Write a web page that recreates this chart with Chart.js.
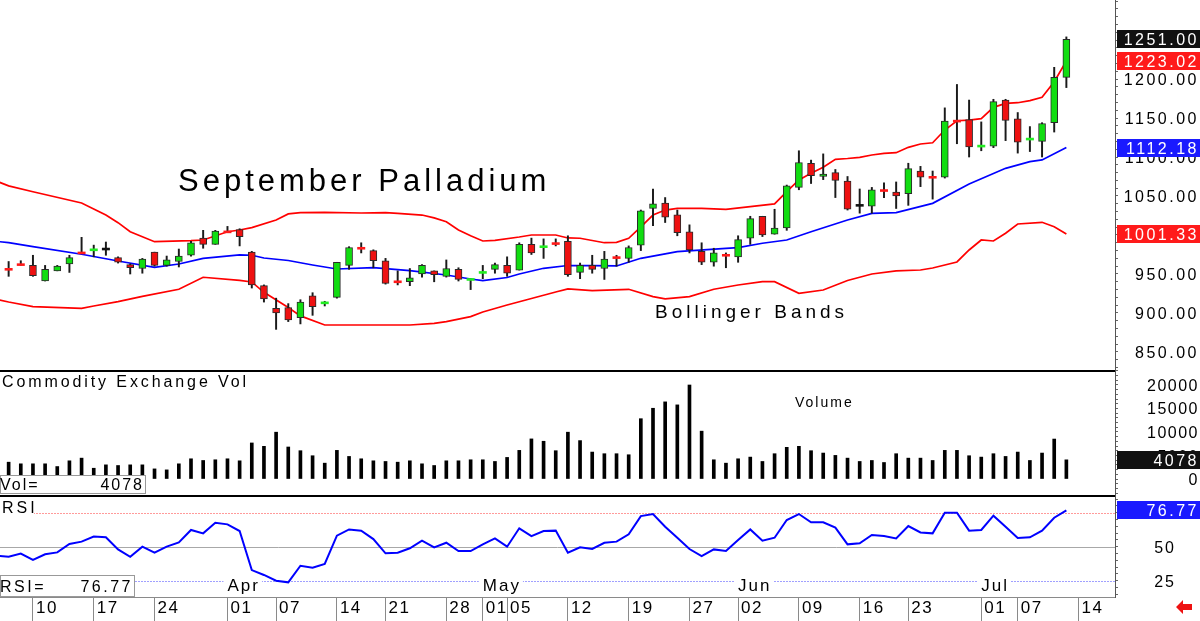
<!DOCTYPE html>
<html>
<head>
<meta charset="utf-8">
<title>September Palladium</title>
<script src="https://cdn.jsdelivr.net/npm/chart.js@4.4.1/dist/chart.umd.min.js"></script>
<style>
  html, body { margin:0; padding:0; background:#fff; }
  #wrap { position:relative; width:1200px; height:621px; overflow:hidden; background:#fff; }
  #wrap canvas { position:absolute; left:0; }
</style>
</head>
<body>
<div id="wrap">
  <canvas id="pricePanel" width="1200" height="370" style="top:0px"></canvas>
  <canvas id="volPanel" width="1200" height="125" style="top:370px"></canvas>
  <canvas id="rsiPanel" width="1200" height="126" style="top:495px"></canvas>
</div>
<script>
// ================= DATA =================
// trading-day index of the first candle (0 = Mar 10)
const firstDay = -2;

const opens = [
  957, 963, 961, 941, 954, 963, 978, 980, 982, 971,
  962, 957, 978, 961, 966, 974, 996, 988, 1005, 1007,
  978, 935, 906, 907, 894, 922, 912, 920, 961, 984,
  980, 967, 941, 940, 950, 954, 947, 956, 942, 951,
  956, 961, 955, 988, 984, 990, 992, 952, 961, 957,
  972, 970, 987, 1034, 1041, 1026, 1004, 979, 965, 975,
  972, 996, 1024, 1001, 1009, 1061, 1092, 1075, 1080, 1069,
  1038, 1037, 1058, 1055, 1053, 1082, 1075, 1074, 1147, 1148,
  1113, 1114, 1173, 1149, 1122, 1120, 1144, 1202
];
const highs = [
  966, 967, 974, 961, 961, 974, 997, 987, 991, 972,
  963, 970, 978, 973, 982, 992, 1006, 1006, 1011, 1008,
  979, 936, 919, 912, 917, 926, 915, 965, 985, 990,
  981, 970, 954, 957, 962, 954, 968, 958, 944, 961,
  964, 972, 990, 996, 995, 995, 999, 964, 974, 979,
  974, 986, 1032, 1059, 1048, 1032, 1013, 990, 983, 977,
  999, 1024, 1024, 1033, 1064, 1108, 1096, 1104, 1084, 1075,
  1059, 1061, 1067, 1068, 1092, 1088, 1082, 1163, 1193, 1173,
  1145, 1174, 1174, 1157, 1139, 1144, 1215, 1254
];
const lows = [
  947, 961, 947, 941, 954, 952, 977, 972, 974, 964,
  950, 951, 960, 960, 959, 973, 983, 988, 1003, 986,
  932, 914, 879, 889, 886, 897, 909, 919, 956, 977,
  958, 937, 936, 935, 946, 940, 946, 941, 930, 944,
  951, 947, 955, 975, 970, 986, 947, 944, 951, 943,
  960, 965, 980, 1012, 1016, 999, 977, 962, 960, 958,
  965, 988, 998, 1001, 1006, 1058, 1066, 1071, 1048, 1032,
  1028, 1028, 1048, 1034, 1038, 1062, 1046, 1073, 1117, 1100,
  1108, 1112, 1121, 1105, 1107, 1100, 1132, 1189
];
const closes = [
  956, 962, 948, 956, 960, 971, 977, 981, 982, 965,
  958, 969, 961, 968, 973, 990, 988, 1005, 1004, 998,
  936, 918, 900, 891, 914, 908, 913, 965, 984, 983,
  967, 938, 940, 945, 961, 949, 957, 943, 943, 952,
  962, 951, 988, 977, 985, 989, 949, 961, 956, 969,
  971, 984, 1031, 1040, 1023, 1003, 981, 965, 977, 974,
  994, 1021, 1000, 1009, 1063, 1093, 1076, 1078, 1070, 1033,
  1038, 1058, 1057, 1050, 1085, 1074, 1074, 1146, 1146, 1113,
  1114, 1171, 1147, 1119, 1123, 1143, 1202, 1251
];

// Bollinger bands, read at [day index, price]
const upperBand = [
  [-3,1069],[-2,1063],[0,1055.5],[4,1041],[6,1025.6],[7,1015.8],[8,1004.2],[10,991.4],[13,992.7],[14,993.6],
  [16,1004.2],[17,1006.4],[18,1009.4],[20,1019.2],[21,1027],[22,1028.6],[24,1029.1],[27,1028.2],
  [29,1028.6],[30,1027.8],[32,1025.6],[33,1022],[34,1017],[35,1006.4],[36,999],[37,992.3],[38,993],
  [40,997.4],[41,1000],[43,1000],[44,996.2],[45,995.8],[47,990.1],[48,990.6],[49,995.8],[50,1010.3],
  [51,1025.6],[52,1032],[53,1034.2],[55,1034.2],[57,1032.9],[59,1036.3],[61,1039.8],[62,1055.5],
  [63,1070.5],[64,1079.1],[65,1086.8],[66,1097],[67,1098.1],[68,1099.6],[69,1102.6],[70,1104.7],
  [71,1105.5],[72,1112.4],[73,1116.7],[74,1118.3],[75,1134.6],[76,1146.5],[77,1147.4],[78,1149.1],
  [79,1163.7],[80,1168.8],[81,1169.6],[82,1172.2],[83,1176.5],[84,1196.5],[85,1223.02]
];
const middleBand = [
  [-3,991.8],[-2,990.2],[0,985],[4,975.3],[7,966.7],[10,958.6],[12,962.8],[14,970.1],[17,974.4],[18,974],
  [19,970.5],[21,967.3],[23,961.5],[25,956.4],[28,958.1],[31,954.2],[34,948.7],[36,943.6],[37,941.4],
  [39,945.5],[40,950],[42,957.3],[44,960.9],[46,960.6],[48,960.3],[50,970.1],[53,978.6],[57,982.9],
  [58,983.7],[60,989.4],[62,993.6],[64,1004.2],[67,1019.2],[69,1027.8],[71,1028.6],[74,1040.6],
  [77,1065.4],[80,1085.5],[82,1094],[83,1096.2],[85,1112.18]
];
const lowerBand = [
  [-3,917.5],[-2,914.1],[0,908.1],[4,906],[5,909],[7,914.5],[9,921.2],[12,930.4],[14,945.8],[17,941.7],[18,939.8],
  [19,926.5],[21,907],[22,896.3],[24,884.6],[28,884.6],[31,884.6],[33,886.6],[34,888.9],[36,895.3],
  [37,901.3],[39,910.3],[41,918.6],[43,926.9],[44,930.8],[46,928.6],[49,930.4],[51,920.9],[52,918],
  [54,920.9],[56,930.4],[58,935.9],[60,940.1],[61,940.1],[63,925.3],[65,929.5],[67,941.7],[69,950],
  [71,953.9],[73,955.1],[74,957.7],[76,965.4],[77,980.8],[78,993.6],[79,992.3],[80,1002.2],[81,1014.1],
  [83,1016.3],[84,1010.6],[85,1001.33]
];

const volumes = [
  3580, 3230, 3230, 3230, 2650, 3870, 4440, 2290, 3010, 2870,
  3010, 3010, 2150, 1940, 3230, 4300, 3940, 4090, 4300, 3870,
  7670, 6950, 9960, 6810, 6020, 4950, 3370, 6090, 4800, 4300,
  3870, 3730, 3580, 3870, 3230, 2870, 3870, 3870, 4090, 4090,
  3730, 4590, 6090, 8530, 8030, 6020, 9960, 8170, 5730,
  5380, 5380, 5160, 12830, 15050, 16410, 15770, 20000, 10180, 4090,
  3370, 4300, 4660, 3730, 5380, 6740, 6950, 6020, 5520, 5020,
  4440, 3730, 3940, 3510, 5380, 4440, 4440, 3940, 6090, 6090,
  4950, 4660, 5380, 4800, 5730, 3940, 5520, 8500, 4078
];

const rsiFirstDay = -3;
const rsiValues = [
  43.4, 42.6, 44.9, 40.2, 44.4, 45.8, 52, 53.7, 57.4, 56.9,
  48, 42.6, 50, 45.6, 50, 53.2, 62.3, 59.8, 67.6, 66.4,
  61.5, 32.8, 29.2, 25, 23.8, 36, 34.6, 37.3, 58.1, 62.7,
  61.8, 55.6, 45.1, 45.6, 48.8, 54.4, 49.5, 52.9, 46.8, 46.8,
  51.7, 56.1, 50, 63.5, 57.8, 61.5, 61.8, 45.6, 49.5, 48.3,
  52.9, 53.7, 59.1, 72.5, 74, 64.7, 56.6, 48.3, 43.1, 48,
  46.8, 54.9, 62.7, 54.4, 56.6, 69.6, 74, 67.9, 67.9, 64,
  51.7, 52.5, 58.6, 57.8, 56.1, 65.2, 60.5, 59.8, 75, 75,
  61.8, 62.3, 72.8, 64.7, 56.4, 56.9, 61.8, 71.3, 76.77
];

const tickDays   = [0, 5, 10, 16, 20, 25, 29, 34, 37, 39, 44, 49, 54, 58, 63, 68, 72, 78, 81, 86];
const tickLabels = ['10','17','24','01','07','14','21','28','01','05','12','19','27','02','09','16','23','01','07','14'];
const monthDays   = [16, 37, 58, 78];
const monthLabels = ['Apr', 'May', 'Jun', 'Jul'];

const priceLabels = [850, 900, 950, 1000, 1050, 1100, 1150, 1200];
const volLabels   = [0, 5000, 10000, 15000, 20000];
const rsiLabels   = [25, 50];
const rsiLevels   = [75, 50, 25];

// ================= HELPERS =================
const FONT = '"Liberation Sans", Arial, sans-serif';
const X_MIN = -2.71, X_MAX = 89.0;
const AXIS_W = 85;

function txt(ctx, s, x, y, size, spacing, color, align) {
  ctx.save();
  ctx.font = size + 'px ' + FONT;
  try { ctx.letterSpacing = spacing + 'px'; } catch (e) {}
  ctx.fillStyle = color;
  ctx.textAlign = align || 'left';
  ctx.textBaseline = 'alphabetic';
  ctx.fillText(s, x, y);
  ctx.restore();
}
function textWidth(ctx, s, size, spacing) {
  ctx.save();
  ctx.font = size + 'px ' + FONT;
  try { ctx.letterSpacing = spacing + 'px'; } catch (e) {}
  const w = ctx.measureText(s).width;
  ctx.restore();
  return w;
}
function valueBox(ctx, y, s, bg) {
  const yy = Math.round(y);
  ctx.save();
  ctx.fillStyle = bg;
  ctx.fillRect(1117, yy - 9, 83, 18);
  ctx.restore();
  txt(ctx, s, 1199, yy + 6, 16, 2.5, '#ffffff', 'right');
}
function hiddenX() {
  return { type: 'linear', min: X_MIN, max: X_MAX, display: false, offset: false, grid: { offset: false } };
}
function rightY(min, max, minorStep, minorFrom, minorTo) {
  return {
    position: 'right', min: min, max: max,
    afterBuildTicks: s => {
      const t = [];
      for (let v = minorFrom; v <= minorTo; v += minorStep) t.push({ value: v });
      s.ticks = t;
    },
    afterFit: s => { s.width = AXIS_W; s.paddingTop = 0; s.paddingBottom = 0; },
    ticks: { display: false, autoSkip: false },
    grid: { drawOnChartArea: false, drawTicks: true, tickLength: 3, color: '#666' },
    border: { display: true, color: '#555', dash: [1, 1] }
  };
}
const baseOpts = {
  responsive: false, animation: false, events: [],
  layout: { padding: 0, autoPadding: false },
  plugins: { legend: { display: false }, tooltip: { enabled: false } }
};
const spacingPlugin = {
  id: 'spacing',
  beforeDraw(chart) { try { chart.ctx.letterSpacing = '1.5px'; } catch (e) {} }
};

// ================= PRICE PANEL =================
const wickData = [], bodyData = [], bodyColors = [], dojiData = [], dojiColors = [];
for (let i = 0; i < closes.length; i++) {
  const d = firstDay + i;
  wickData.push({ x: d, y: [lows[i], highs[i]] });
  const o = opens[i], c = closes[i];
  if (Math.abs(c - o) <= 1.5) {
    dojiData.push({ x: d, y: c });
    dojiColors.push(c > o ? '#22ee22' : (c < o ? '#ff1a1a' : '#111111'));
  } else {
    bodyData.push({ x: d, y: [Math.min(o, c), Math.max(o, c)] });
    bodyColors.push(c > o ? '#11dd11' : '#ee1111');
  }
}
const toXY = arr => arr.map(p => ({ x: p[0], y: p[1] }));

new Chart(document.getElementById('pricePanel'), {
  type: 'bar',
  data: {
    datasets: [
      { type: 'line', data: toXY(upperBand), borderColor: '#ff0000', borderWidth: 1.7, pointRadius: 0, tension: 0, order: 10 },
      { type: 'line', data: toXY(middleBand), borderColor: '#0000ff', borderWidth: 1.7, pointRadius: 0, tension: 0, order: 10 },
      { type: 'line', data: toXY(lowerBand), borderColor: '#ff0000', borderWidth: 1.7, pointRadius: 0, tension: 0, order: 10 },
      { type: 'bar', data: wickData, backgroundColor: '#1a1a1a', borderWidth: 0, barThickness: 1.3, grouped: false, order: 5 },
      { type: 'bar', data: bodyData, backgroundColor: bodyColors, borderColor: '#2a2a2a', borderWidth: 1, borderSkipped: false, barThickness: 7, grouped: false, order: 2 },
      { type: 'line', data: dojiData, showLine: false, pointStyle: 'line', pointRadius: 4, pointBorderWidth: 2.6, pointBorderColor: dojiColors, pointBackgroundColor: dojiColors, order: 1 }
    ]
  },
  options: Object.assign({}, baseOpts, {
    scales: { x: hiddenX(), y: rightY(826.9, 1301.3, 10, 830, 1300) }
  }),
  plugins: [spacingPlugin, {
    id: 'priceDecor',
    afterDraw(chart) {
      const ctx = chart.ctx, ys = chart.scales.y;
      txt(ctx, 'September Palladium', 178, 191, 31, 4, '#000', 'left');
      txt(ctx, 'Bollinger Bands', 655, 318, 19, 4, '#000', 'left');
      priceLabels.forEach(v => txt(ctx, v.toFixed(2), 1199, Math.round(ys.getPixelForValue(v)) + 6, 16, 2.5, '#000', 'right'));
      const last = closes.length - 1;
      valueBox(ctx, ys.getPixelForValue(closes[last]), closes[last].toFixed(2), '#111111');
      const u = upperBand[upperBand.length - 1][1], m = middleBand[middleBand.length - 1][1], l = lowerBand[lowerBand.length - 1][1];
      valueBox(ctx, ys.getPixelForValue(u), u.toFixed(2), '#ff1a1a');
      valueBox(ctx, ys.getPixelForValue(m), m.toFixed(2), '#1a1aff');
      valueBox(ctx, ys.getPixelForValue(l), l.toFixed(2), '#ff1a1a');
    }
  }]
});

// ================= VOLUME PANEL =================
const volData = volumes.map((v, i) => ({ x: firstDay + i, y: v }));
new Chart(document.getElementById('volPanel'), {
  type: 'bar',
  data: { datasets: [
    { data: volData, backgroundColor: '#000000', borderWidth: 0, barThickness: 3, grouped: false }
  ] },
  options: Object.assign({}, baseOpts, {
    scales: { x: hiddenX(), y: rightY(-3404, 23191, 1000, -3000, 23000) }
  }),
  plugins: [spacingPlugin, {
    id: 'volDecor',
    afterDraw(chart) {
      const ctx = chart.ctx, ys = chart.scales.y;
      ctx.save(); ctx.fillStyle = '#000'; ctx.fillRect(0, 0, 1115, 2); ctx.restore();
      txt(ctx, 'Commodity Exchange Vol', 2, 17, 16, 2.9, '#000', 'left');
      txt(ctx, 'Volume', 795, 37, 14, 2, '#000', 'left');
      volLabels.forEach(v => txt(ctx, String(v), 1199, Math.round(ys.getPixelForValue(v)) + 6, 16, 1.5, '#000', 'right'));
      // readout box
      ctx.save();
      ctx.fillStyle = '#fff'; ctx.fillRect(0, 105, 146, 19);
      ctx.strokeStyle = '#999'; ctx.lineWidth = 1; ctx.strokeRect(0.5, 105.5, 145, 18);
      ctx.restore();
      const lastVol = volumes[volumes.length - 1];
      txt(ctx, 'Vol=', 0, 120, 16, 2, '#000', 'left');
      txt(ctx, String(lastVol), 144, 120, 16, 2, '#000', 'right');
      valueBox(ctx, ys.getPixelForValue(lastVol), String(lastVol), '#111111');
    }
  }]
});

// ================= RSI PANEL =================
const rsiData = rsiValues.map((v, i) => ({ x: rsiFirstDay + i, y: v }));
new Chart(document.getElementById('rsiPanel'), {
  type: 'line',
  data: { datasets: [
    { data: rsiData, borderColor: '#0000ff', borderWidth: 2, pointRadius: 0, tension: 0 }
  ] },
  options: Object.assign({}, baseOpts, {
    scales: {
      x: {
        type: 'linear', min: X_MIN, max: X_MAX, offset: false,
        afterBuildTicks: s => { s.ticks = tickDays.map(v => ({ value: v })); },
        afterFit: s => { s.height = 24; s.paddingLeft = 0; s.paddingRight = 0; },
        ticks: {
          autoSkip: false, maxRotation: 0, minRotation: 0, align: 'start', labelOffset: 3, padding: -23,
          color: '#000', font: { family: FONT, size: 17 },
          callback: (v, idx) => tickLabels[idx]
        },
        grid: { drawOnChartArea: false, drawTicks: true, tickLength: 24, color: '#8a8a8a', lineWidth: 1 },
        border: { display: true, color: '#8a8a8a' }
      },
      y: rightY(13, 88, 5, 15, 85)
    }
  }),
  plugins: [spacingPlugin, {
    id: 'rsiDecor',
    beforeDatasetsDraw(chart) {
      const ctx = chart.ctx, ys = chart.scales.y, ca = chart.chartArea;
      const styles = { 75: ['#ff9a9a', [2, 1]], 50: ['#a8a8a8', []], 25: ['#a0a0ff', [2, 1]] };
      rsiLevels.forEach(lv => {
        const y = Math.round(ys.getPixelForValue(lv)) + 0.5;
        ctx.save();
        ctx.strokeStyle = styles[lv][0]; ctx.setLineDash(styles[lv][1]); ctx.lineWidth = 1;
        ctx.beginPath(); ctx.moveTo(ca.left, y); ctx.lineTo(ca.right, y); ctx.stroke();
        ctx.restore();
      });
    },
    afterDraw(chart) {
      const ctx = chart.ctx, ys = chart.scales.y, xs = chart.scales.x;
      ctx.save(); ctx.fillStyle = '#000'; ctx.fillRect(0, 0, 1115, 2); ctx.restore();
      // RSI label
      ctx.save(); ctx.fillStyle = '#fff'; ctx.fillRect(0, 4, 34, 17); ctx.restore();
      txt(ctx, 'RSI', 2, 18, 16, 3, '#000', 'left');
      // month labels
      monthDays.forEach((d, i) => {
        const x = xs.getPixelForValue(d);
        const w = textWidth(ctx, monthLabels[i], 17, 2);
        ctx.save(); ctx.fillStyle = '#fff'; ctx.fillRect(x - 4, 82, w + 6, 17); ctx.restore();
        txt(ctx, monthLabels[i], x, 96, 17, 2, '#000', 'left');
      });
      // axis labels
      rsiLabels.forEach(v => txt(ctx, String(v), 1176, Math.round(ys.getPixelForValue(v)) + 6, 16, 2, '#000', 'right'));
      // readout box
      const lastRsi = rsiValues[rsiValues.length - 1];
      ctx.save();
      ctx.fillStyle = '#fff'; ctx.fillRect(0, 80, 135, 22);
      ctx.strokeStyle = '#999'; ctx.lineWidth = 1; ctx.strokeRect(0.5, 80.5, 134, 21);
      ctx.restore();
      txt(ctx, 'RSI=', 0, 97, 16, 2.5, '#000', 'left');
      txt(ctx, lastRsi.toFixed(2), 133, 97, 16, 2.5, '#000', 'right');
      valueBox(ctx, ys.getPixelForValue(lastRsi), lastRsi.toFixed(2), '#1a1aff');
      // red arrow
      ctx.save();
      ctx.fillStyle = '#ee1111';
      ctx.beginPath();
      ctx.moveTo(1176, 112); ctx.lineTo(1183, 105); ctx.lineTo(1183, 109); ctx.lineTo(1192, 109);
      ctx.lineTo(1192, 115); ctx.lineTo(1183, 115); ctx.lineTo(1183, 119); ctx.closePath();
      ctx.fill();
      ctx.restore();
    }
  }]
});
</script>
</body>
</html>
